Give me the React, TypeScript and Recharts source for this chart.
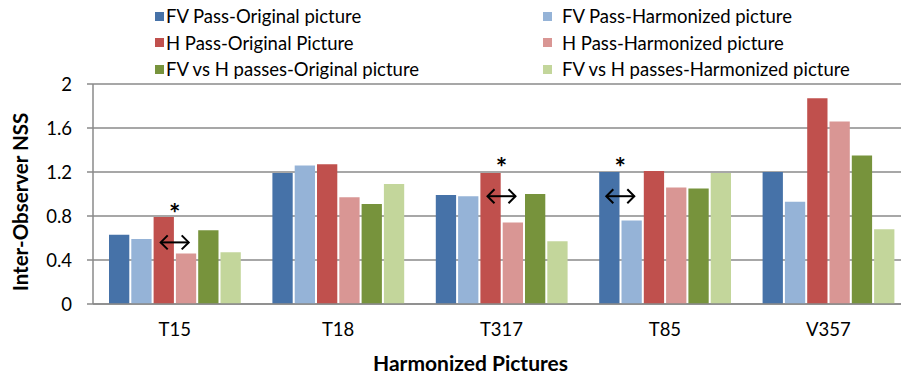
import { BarChart, Bar, XAxis, YAxis, CartesianGrid, ReferenceDot } from 'recharts';

const categories = ['T15', 'T18', 'T317', 'T85', 'V357'];
const fvOriginal = [0.63, 1.19, 0.99, 1.2, 1.2];
const fvHarmonized = [0.59, 1.26, 0.98, 0.76, 0.93];
const hOriginal = [0.79, 1.27, 1.19, 1.21, 1.87];
const hHarmonized = [0.46, 0.97, 0.74, 1.06, 1.66];
const fvhOriginal = [0.67, 0.91, 1.0, 1.05, 1.35];
const fvhHarmonized = [0.47, 1.09, 0.57, 1.19, 0.68];
const yTicks = [0, 0.4, 0.8, 1.2, 1.6, 2];

// significance marks: arrow sits between bar `afterBar` and the next one
const marks = [
  { category: 'T15', afterBar: 2, star: 0.87, arrow: 0.56 },
  { category: 'T317', afterBar: 2, star: 1.29, arrow: 0.98 },
  { category: 'T85', afterBar: 0, star: 1.29, arrow: 0.98 },
];

const series = [
  { key: 'fvOriginal', name: 'FV Pass-Original picture', color: '#4672A8' },
  { key: 'fvHarmonized', name: 'FV Pass-Harmonized picture', color: '#95B3D7' },
  { key: 'hOriginal', name: 'H Pass-Original Picture', color: '#C0504D' },
  { key: 'hHarmonized', name: 'H Pass-Harmonized picture', color: '#D99694' },
  { key: 'fvhOriginal', name: 'FV vs H passes-Original picture', color: '#77933C' },
  { key: 'fvhHarmonized', name: 'FV vs H passes-Harmonized picture', color: '#C3D69B' },
];

const data = categories.map((c, i) => ({
  name: c,
  fvOriginal: fvOriginal[i],
  fvHarmonized: fvHarmonized[i],
  hOriginal: hOriginal[i],
  hHarmonized: hHarmonized[i],
  fvhOriginal: fvhOriginal[i],
  fvhHarmonized: fvhHarmonized[i],
}));

const BAR_SIZE = 20.3;
const BAR_GAP = 2;
const GROUP_W = series.length * BAR_SIZE + (series.length - 1) * BAR_GAP;
const GRID = '#8a8a8a';

const boundaryDx = (afterBar: number) =>
  (afterBar + 1) * (BAR_SIZE + BAR_GAP) - BAR_GAP / 2 - GROUP_W / 2;

const Star = (dx: number) => (props: any) => (
  <text x={props.cx + dx} y={props.cy + 15} textAnchor="middle" fontSize={27} fontWeight="bold" fill="#000">
    *
  </text>
);

const Arrow = (dx: number) => (props: any) => {
  const x = props.cx + dx;
  const y = props.cy;
  return (
    <g stroke="#000" strokeWidth={2} fill="none">
      <path d={`M${x - 14},${y} L${x + 14},${y}`} />
      <path d={`M${x - 7},${y - 7} L${x - 14},${y} L${x - 7},${y + 7}`} />
      <path d={`M${x + 7},${y - 7} L${x + 14},${y} L${x + 7},${y + 7}`} />
    </g>
  );
};

const legendRows = [16, 42.5, 69];

const Legend = () => (
  <>
    {series.map((s, i) => {
      const row = Math.floor(i / 2);
      const col = i % 2;
      const sqX = col === 0 ? 155 : 543;
      const txX = col === 0 ? 166 : 562;
      const cy = legendRows[row];
      return (
        <div key={s.key}>
          <div style={{ position: 'absolute', left: sqX, top: cy - 4.5, width: 9, height: 9, background: s.color }} />
          <div style={{ position: 'absolute', left: txX, top: cy - 11, height: 22, lineHeight: '22px', fontSize: 18.5, whiteSpace: 'nowrap', color: '#000' }}>
            {s.name}
          </div>
        </div>
      );
    })}
  </>
);

export default function App() {
  return (
    <div style={{ position: 'absolute', left: 0, top: 0, width: 901, height: 376, overflow: 'hidden', fontFamily: 'Lato', background: '#fff' }}>
      <Legend />
      <BarChart width={910} height={376} data={data} margin={{ top: 84, right: 0, bottom: 0, left: 33 }} barGap={BAR_GAP}>
        <CartesianGrid vertical={false} stroke={GRID} strokeWidth={1.5} />
        <XAxis
          dataKey="name"
          height={72}
          axisLine={{ stroke: GRID, strokeWidth: 1.5 }}
          tickLine={false}
          tickSize={0}
          tickMargin={19}
          tick={{ fontSize: 18.5, fill: '#000' }}
          label={{ value: 'Harmonized Pictures', position: 'insideBottom', offset: 5, dx: -31, fontSize: 21, fontWeight: 'bold', fill: '#000' }}
        />
        <YAxis
          width={60}
          domain={[0, 2]}
          ticks={yTicks}
          interval={0}
          axisLine={{ stroke: GRID, strokeWidth: 1.5 }}
          tickLine={{ stroke: GRID, strokeWidth: 1.5 }}
          tickSize={6}
          tickMargin={15}
          tick={{ fontSize: 18.5, fill: '#000' }}
          label={{
            content: () => (
              <text x={28} y={202} transform="rotate(-90 28 202)" textAnchor="middle" fontSize={20.5} fontWeight="bold" fill="#000">
                Inter-Observer NSS
              </text>
            ),
          }}
        />
        {series.map((s) => (
          <Bar key={s.key} dataKey={s.key} name={s.name} fill={s.color} barSize={BAR_SIZE} isAnimationActive={false} />
        ))}
        {marks.map((m) => (
          <ReferenceDot key={`s-${m.category}`} x={m.category} y={m.star} shape={Star(boundaryDx(m.afterBar))} />
        ))}
        {marks.map((m) => (
          <ReferenceDot key={`a-${m.category}`} x={m.category} y={m.arrow} shape={Arrow(boundaryDx(m.afterBar))} />
        ))}
      </BarChart>
    </div>
  );
}
